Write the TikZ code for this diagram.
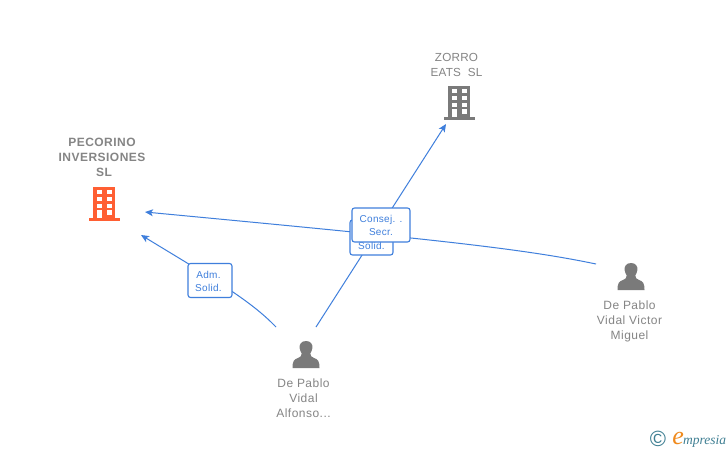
\documentclass[tikz,border=0pt]{standalone}
\usepackage{fontspec}
\setmainfont{Liberation Sans}
\newfontfamily\logofont{Liberation Serif}
\newfontfamily\entityfont[LetterSpace=4]{Liberation Sans}
\newfontfamily\zorrofont[LetterSpace=2]{Liberation Sans}
\definecolor{edgeblue}{HTML}{3F7FDC}
\definecolor{labelgray}{HTML}{858585}
\definecolor{icongray}{HTML}{7A7A7A}
\definecolor{iconorange}{HTML}{FF5F33}
\definecolor{logoteal}{HTML}{3F7F93}
\definecolor{logoorange}{HTML}{F08A1D}
\usetikzlibrary{arrows.meta}
\tikzset{
  edgeline/.style={draw=edgeblue,line width=1pt,-{Stealth[length=8pt,width=7pt,inset=2pt]}},
  tagbox/.style={draw=edgeblue,line width=1.1pt,fill=white,rounded corners=2.5pt,inner sep=0pt},
  tagtext/.style={text=edgeblue,font=\fontsize{10}{13}\selectfont\addfontfeatures{LetterSpace=3},align=center,inner sep=0pt},
  entity/.style={text=labelgray,font=\entityfont\fontsize{12}{15}\selectfont,align=center,inner sep=0pt},
}
\newcommand{\buildingicon}[3]{% x, y of top-left of body, colour
  \begin{scope}[shift={(#1,#2)}]
    \fill[#3] (0,0) rectangle (22,31);
    \fill[#3] (-4.5,31) rectangle (27,33.5);
    \foreach \wy in {3,10,16.5}{
      \fill[white] (4,\wy) rectangle (9,\wy+4.3);
      \fill[white] (14,\wy) rectangle (19,\wy+4.3);
    }
    \fill[white] (4,23) rectangle (9,31);
    \fill[white] (14,23) rectangle (19,27.5);
  \end{scope}
}
\newcommand{\personicon}[2]{% x centre, y top
  \begin{scope}[shift={(#1,#2)}]
    \fill[icongray] (0,0) .. controls (-4.8,0) and (-6.8,3.5) .. (-6.4,7)
      .. controls (-6.2,9.5) and (-5,11) .. (-4.3,12.5)
      .. controls (-4.3,15) and (-5.5,16) .. (-8,17)
      .. controls (-12,18.3) and (-13.5,20) .. (-13.5,27)
      -- (13.5,27)
      .. controls (13.5,20) and (12,18.3) .. (8,17)
      .. controls (5.5,16) and (4.3,15) .. (4.3,12.5)
      .. controls (5,11) and (6.2,9.5) .. (6.4,7)
      .. controls (6.8,3.5) and (4.8,0) .. (0,0) -- cycle;
  \end{scope}
}
\begin{document}
\begin{tikzpicture}[x=1pt,y=-1pt]
\useasboundingbox (0,0) rectangle (728,450);
\fill[white] (0,0) rectangle (728,450);

\coordinate (alfonsoL) at (276,327);
\coordinate (alfonsoR) at (316,327);
\coordinate (victorEnd) at (596,264);
\coordinate (pecoA) at (141,235);
\coordinate (pecoB) at (145,212);
\coordinate (zorroEnd) at (446,124);

\draw[edgeline] (alfonsoL) .. controls (250,300) and (215,280) .. (pecoA);
\draw[edgeline] (alfonsoR) -- (zorroEnd);
\draw[edgeline] (victorEnd) .. controls (520,248) and (420,238) .. (pecoB);

\node[tagbox,minimum width=43pt,minimum height=35pt] (solidbox) at (371.5,237.5) {};
\node[tagtext] (solidtext) at (371.5,245.5) {Solid.};
\node[tagbox,minimum width=58pt,minimum height=34pt] (consejbox) at (381,225) {};
\node[tagtext] (consejtext) at (381,225.5) {Consej. .\\Secr.};
\node[tagbox,minimum width=44pt,minimum height=34pt] (admbox) at (210,280.5) {};
\node[tagtext] (admtext) at (208.5,281) {Adm.\\Solid.};

\node[entity,font=\entityfont\fontsize{12}{15}\selectfont\bfseries] (pecorino) at (102,157) {PECORINO\\INVERSIONES\\\hspace{4pt}SL};
\node[entity,font=\zorrofont\fontsize{11.7}{15}\selectfont] (zorro) at (456.5,64.5) {ZORRO\\EATS\ \ SL};
\node[entity] (alfonso) at (303.5,398) {De Pablo\\Vidal\\Alfonso...};
\node[entity] (victor) at (629.5,321) {De Pablo\\Vidal Victor\\Miguel};

\buildingicon{93}{187}{iconorange}
\buildingicon{448}{86}{icongray}
\personicon{306}{341}
\personicon{631}{263}

\node[inner sep=0pt,text=logoteal,font=\fontsize{22}{22}\selectfont] (copyr) at (658,439) {©};
\node[inner sep=0pt,anchor=base west,text=logoteal,font=\logofont\itshape\fontsize{13.5}{13.5}\selectfont] (brand) at (683,444) {mpresia};
\node[inner sep=0pt,anchor=base east,text=logoorange,font=\logofont\itshape\fontsize{26}{26}\selectfont] (brande) at (684,444) {e};
\end{tikzpicture}
\end{document}
